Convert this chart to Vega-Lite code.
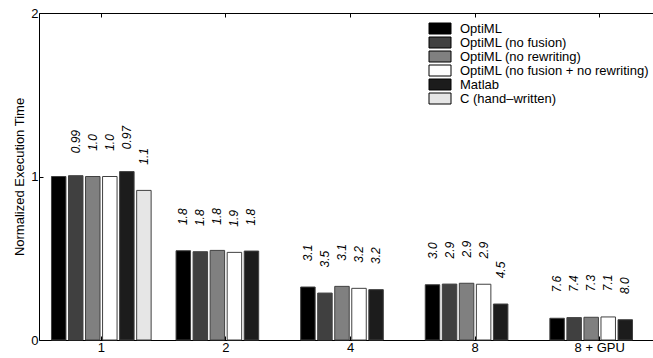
{
  "$schema": "https://vega.github.io/schema/vega-lite/v6.json",
  "width": 623,
  "height": 327,
  "autosize": {"type": "none"},
  "padding": {"left": 39, "top": 13, "right": 0, "bottom": 18},
  "config": {
    "font": "Liberation Sans",
    "view": {"stroke": "#000", "strokeWidth": 1},
    "axis": {"grid": false, "domainColor": "#000", "tickColor": "#000", "labelColor": "#000", "titleColor": "#000"}
  },
  "data": {
    "values": [
      {"g": "1", "s": "OptiML", "v": 1.0, "label": ""},
      {"g": "1", "s": "OptiML (no fusion)", "v": 1.005, "label": "0.99"},
      {"g": "1", "s": "OptiML (no rewriting)", "v": 1.0, "label": "1.0"},
      {"g": "1", "s": "OptiML (no fusion + no rewriting)", "v": 1.0, "label": "1.0"},
      {"g": "1", "s": "Matlab", "v": 1.03, "label": "0.97"},
      {"g": "1", "s": "C (hand\u2013written)", "v": 0.915, "label": "1.1"},
      {"g": "2", "s": "OptiML", "v": 0.546, "label": "1.8"},
      {"g": "2", "s": "OptiML (no fusion)", "v": 0.54, "label": "1.8"},
      {"g": "2", "s": "OptiML (no rewriting)", "v": 0.548, "label": "1.8"},
      {"g": "2", "s": "OptiML (no fusion + no rewriting)", "v": 0.536, "label": "1.9"},
      {"g": "2", "s": "Matlab", "v": 0.544, "label": "1.8"},
      {"g": "4", "s": "OptiML", "v": 0.324, "label": "3.1"},
      {"g": "4", "s": "OptiML (no fusion)", "v": 0.287, "label": "3.5"},
      {"g": "4", "s": "OptiML (no rewriting)", "v": 0.328, "label": "3.1"},
      {"g": "4", "s": "OptiML (no fusion + no rewriting)", "v": 0.316, "label": "3.2"},
      {"g": "4", "s": "Matlab", "v": 0.308, "label": "3.2"},
      {"g": "8", "s": "OptiML", "v": 0.338, "label": "3.0"},
      {"g": "8", "s": "OptiML (no fusion)", "v": 0.342, "label": "2.9"},
      {"g": "8", "s": "OptiML (no rewriting)", "v": 0.347, "label": "2.9"},
      {"g": "8", "s": "OptiML (no fusion + no rewriting)", "v": 0.341, "label": "2.9"},
      {"g": "8", "s": "Matlab", "v": 0.22, "label": "4.5"},
      {"g": "8 + GPU", "s": "OptiML", "v": 0.133, "label": "7.6"},
      {"g": "8 + GPU", "s": "OptiML (no fusion)", "v": 0.137, "label": "7.4"},
      {"g": "8 + GPU", "s": "OptiML (no rewriting)", "v": 0.139, "label": "7.3"},
      {"g": "8 + GPU", "s": "OptiML (no fusion + no rewriting)", "v": 0.141, "label": "7.1"},
      {"g": "8 + GPU", "s": "Matlab", "v": 0.124, "label": "8.0"}
    ]
  },
  "encoding": {
    "xOffset": {
      "field": "s", "type": "nominal",
      "scale": {"domain": ["OptiML", "OptiML (no fusion)", "OptiML (no rewriting)", "OptiML (no fusion + no rewriting)", "Matlab", "C (hand\u2013written)"], "paddingInner": 0.15, "paddingOuter": 0}
    },
    "y": {
      "field": "v", "type": "quantitative",
      "scale": {"domain": [0, 2], "nice": false},
      "axis": {"values": [0, 1, 2], "format": ".0f", "title": "Normalized Execution Time", "titleFontSize": 13, "titleFontWeight": "normal", "titlePadding": 4, "labelFontSize": 13, "tickSize": -4, "labelPadding": 5, "domain": false}
    }
  },
  "layer": [
    {
      "mark": {"type": "bar", "stroke": "#404040", "strokeWidth": 1},
      "encoding": {
        "x": {
          "field": "g", "type": "nominal",
          "sort": ["1", "2", "4", "8", "8 + GPU"],
          "scale": {"domain": ["1", "2", "4", "8", "8 + GPU"], "paddingInner": 0.2, "paddingOuter": 0.1},
          "axis": {"orient": "bottom", "title": null, "labelAngle": 0, "labelFontSize": 13, "tickSize": -4, "labelPadding": 5, "domain": false}
        },
        "color": {
          "field": "s", "type": "nominal",
          "scale": {
            "domain": ["OptiML", "OptiML (no fusion)", "OptiML (no rewriting)", "OptiML (no fusion + no rewriting)", "Matlab", "C (hand\u2013written)"],
            "range": ["#000000", "#404040", "#808080", "#ffffff", "#1c1c1c", "#e6e6e6"]
          },
          "legend": {
            "title": null, "orient": "none", "legendX": 394.5, "legendY": 9,
            "symbolType": "M-2,-1H2V1H-2Z", "symbolSize": 121,
            "symbolStrokeColor": "#000", "symbolStrokeWidth": 1, "symbolOpacity": 1,
            "labelFontSize": 13, "labelLimit": 400, "rowPadding": -1.5, "labelOffset": 13.5, "labelColor": "#000", "padding": 0
          }
        }
      }
    },
    {
      "mark": {"type": "text", "angle": 270, "align": "center", "baseline": "middle", "dx": 34, "fontSize": 12, "fontStyle": "italic", "color": "#000"},
      "encoding": {
        "x": {"field": "g", "type": "nominal", "sort": ["1", "2", "4", "8", "8 + GPU"], "axis": null},
        "text": {"field": "label"}
      }
    },
    {
      "mark": {"type": "text", "text": "", "opacity": 0},
      "encoding": {
        "x": {
          "field": "g", "type": "nominal",
          "sort": ["1", "2", "4", "8", "8 + GPU"],
          "axis": {"orient": "top", "labels": false, "title": null, "tickSize": -4, "domain": false}
        }
      }
    }
  ],
  "resolve": {"axis": {"x": "independent"}}
}
